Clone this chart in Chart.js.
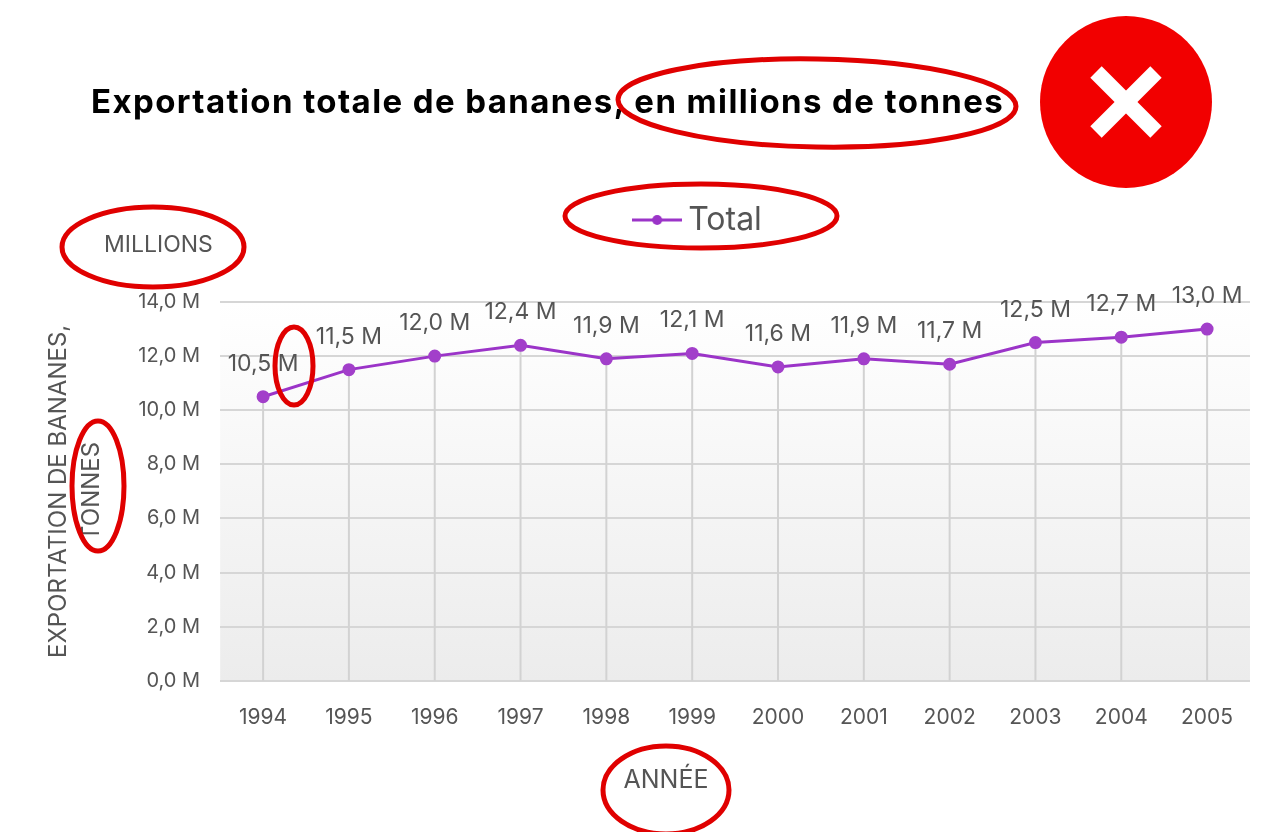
<!DOCTYPE html>
<html lang="fr">
<head>
<meta charset="utf-8">
<title>Exportation totale de bananes</title>
<script src="https://cdn.jsdelivr.net/npm/chart.js@4/dist/chart.umd.min.js"></script>
<style>
    html, body { margin: 0; padding: 0; background: #fff; }
    #wrap { position: relative; width: 1264px; height: 832px; overflow: hidden; font-family: Inter, "Open Sans", sans-serif; }
    #chart { position: absolute; left: 0; top: 0; }
    #title { position: absolute; left: 91px; top: 81px; margin: 0; font-size: 33px; font-weight: 700; color: #000; white-space: nowrap; letter-spacing: 1.4px; }
    #unit { position: absolute; left: 104px; top: 230px; font-size: 23px; color: #555; }
    #xtitle { position: absolute; left: 666px; top: 764px; transform: translateX(-50%); font-size: 25px; color: #555; }
    #marks { position: absolute; left: 0; top: 0; pointer-events: none; }
</style>
</head>
<body>
<div id="wrap">
    <canvas id="chart" width="1264" height="832"></canvas>
    <h1 id="title">Exportation totale de bananes, en millions de tonnes</h1>
    <div id="unit">MILLIONS</div>
    <div id="xtitle">ANNÉE</div>
    <svg id="marks" width="1264" height="832">
        <circle cx="1126" cy="102" r="86" fill="#f20000"/>
        <g stroke="#fff" stroke-width="16">
            <line x1="1096" y1="72" x2="1156" y2="132"/>
            <line x1="1156" y1="72" x2="1096" y2="132"/>
        </g>
        <g fill="none" stroke="#e00000" stroke-width="5">
            <ellipse cx="817" cy="103" rx="199" ry="44" transform="rotate(1 817 103)"/>
            <ellipse cx="701" cy="216" rx="136" ry="32"/>
            <ellipse cx="153" cy="247" rx="91" ry="40"/>
            <ellipse cx="294" cy="366" rx="19" ry="39"/>
            <ellipse cx="98" cy="486" rx="26" ry="65"/>
            <ellipse cx="666" cy="790" rx="63" ry="44"/>
        </g>
    </svg>
</div>
<script>
const years = ["1994", "1995", "1996", "1997", "1998", "1999", "2000", "2001", "2002", "2003", "2004", "2005"];
const totalExport = [10.5, 11.5, 12.0, 12.4, 11.9, 12.1, 11.6, 11.9, 11.7, 12.5, 12.7, 13.0];
const yTicks = [0, 2, 4, 6, 8, 10, 12, 14];

const lineColor = "#9b34c8";
const textGray = "#555555";
const font = "Inter, 'Open Sans', sans-serif";

function fmt(v) {
    return v.toFixed(1).replace(".", ",") + " M";
}

// legend marker: short line with a dot
function legendMarker() {
    let c = document.createElement("canvas");
    c.width = 50;
    c.height = 14;
    let g = c.getContext("2d");
    g.strokeStyle = lineColor;
    g.lineWidth = 3;
    g.beginPath();
    g.moveTo(0, 7);
    g.lineTo(50, 7);
    g.stroke();
    g.fillStyle = lineColor;
    g.beginPath();
    g.arc(25, 7, 5, 0, Math.PI * 2);
    g.fill();
    return c;
}
const marker = legendMarker();

const plotBackground = {
    id: "plotBackground",
    beforeDraw(chart) {
        const {ctx, chartArea: a} = chart;
        let grad = ctx.createLinearGradient(0, a.top, 0, a.bottom);
        grad.addColorStop(0, "#ffffff");
        grad.addColorStop(1, "#ececec");
        ctx.save();
        ctx.fillStyle = grad;
        ctx.fillRect(a.left, a.top, a.right - a.left, a.bottom - a.top);
        ctx.restore();
    }
};

// vertical lines from each point down to the x axis
const dropLines = {
    id: "dropLines",
    beforeDatasetsDraw(chart) {
        const {ctx, chartArea: a} = chart;
        const meta = chart.getDatasetMeta(0);
        ctx.save();
        ctx.strokeStyle = "#d2d2d2";
        ctx.lineWidth = 2;
        meta.data.forEach(p => {
            ctx.beginPath();
            ctx.moveTo(p.x, p.y);
            ctx.lineTo(p.x, a.bottom);
            ctx.stroke();
        });
        ctx.restore();
    }
};

const valueLabels = {
    id: "valueLabels",
    afterDatasetsDraw(chart) {
        const {ctx} = chart;
        const meta = chart.getDatasetMeta(0);
        ctx.save();
        ctx.font = "23px " + font;
        ctx.fillStyle = textGray;
        ctx.textAlign = "center";
        ctx.textBaseline = "middle";
        meta.data.forEach((p, i) => {
            ctx.fillText(fmt(totalExport[i]), p.x, p.y - 33);
        });
        ctx.restore();
    }
};

// extra room under the legend, legend nudged to the right
const legendSpacing = {
    id: "legendSpacing",
    beforeInit(chart) {
        const fit = chart.legend.fit;
        chart.legend.fit = function () {
            fit.bind(chart.legend)();
            this.height += 56;
        };
    },
    afterLayout(chart) {
        chart.legend.left += 64;
        chart.legend.right += 64;
    }
};

new Chart(document.getElementById("chart").getContext("2d"), {
    type: "line",
    data: {
        labels: years,
        datasets: [{
            label: "Total",
            data: totalExport,
            borderColor: lineColor,
            backgroundColor: lineColor,
            borderWidth: 3,
            pointRadius: 5,
            pointHoverRadius: 5,
            pointBackgroundColor: "#a23fca",
            pointBorderColor: "#a23fca",
            tension: 0
        }]
    },
    options: {
        responsive: false,
        animation: false,
        layout: { padding: { top: 194, left: 26, right: 14, bottom: 78 } },
        plugins: {
            title: { display: false },
            tooltip: { enabled: false },
            legend: {
                position: "top",
                labels: {
                    usePointStyle: true,
                    pointStyleWidth: 30,
                    padding: 10,
                    color: textGray,
                    font: { family: font, size: 32 },
                    generateLabels: chart => [{
                        text: "Total",
                        pointStyle: marker,
                        fontColor: textGray,
                        datasetIndex: 0,
                        lineWidth: 0,
                        strokeStyle: "transparent",
                        fillStyle: "transparent"
                    }]
                }
            }
        },
        scales: {
            x: {
                offset: true,
                grid: { display: false, drawTicks: false },
                border: { display: false },
                ticks: { color: textGray, padding: 24, font: { family: font, size: 21 } },
                title: { display: false }
            },
            y: {
                min: 0,
                max: 14,
                afterBuildTicks: axis => { axis.ticks = yTicks.map(v => ({ value: v })); },
                grid: { color: "#d6d6d6", lineWidth: 2, drawTicks: false },
                border: { display: false },
                ticks: {
                    color: textGray,
                    padding: 20,
                    font: { family: font, size: 20 },
                    callback: v => fmt(v)
                },
                title: {
                    display: true,
                    text: ["EXPORTATION DE BANANES,", "TONNES"],
                    color: textGray,
                    font: { family: font, size: 24, lineHeight: 1.38 },
                    padding: { top: 16, bottom: 10 }
                }
            }
        }
    },
    plugins: [plotBackground, dropLines, valueLabels, legendSpacing]
});
</script>
</body>
</html>
